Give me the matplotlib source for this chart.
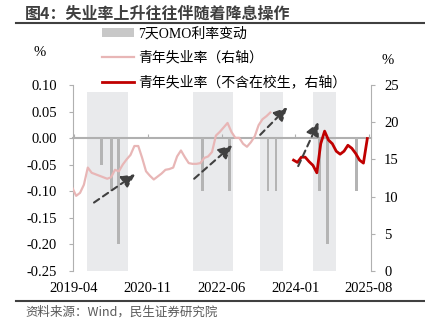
import calendar
import matplotlib
matplotlib.use('agg')
import matplotlib.pyplot as plt
from matplotlib.patches import Patch
from matplotlib.lines import Line2D

plt.rcParams['axes.unicode_minus'] = False

# ---- data ----
youth_start = '2019-03'
youth_rate = [11.2, 10.1, 10.5, 11.6, 13.9, 13.2, 13.0, 12.8, 12.6, 12.4,
              12.6, 13.6, 13.4, 14.3, 15.0, 15.6, 16.8, 16.8, 15.2, 13.4,
              12.8, 12.3, 12.7, 13.1, 13.6, 13.7, 13.9, 15.4, 16.2, 15.3,
              14.5, 14.4, 14.4, 14.5, 15.2, 15.4, 16.0, 18.2, 18.7, 19.3,
              19.9, 18.7, 17.9, 17.9, 17.1, 16.7, 17.3, 18.1, 19.6, 20.4,
              20.8, 21.3]
youth_ex_start = '2023-12'
youth_ex_rate = [14.9, 14.6, 15.3, 15.3, 14.7, 14.2, 13.2, 17.1, 18.8, 17.6,
                 17.1, 16.1, 15.7, 16.1, 16.9, 16.5, 15.8, 14.9, 14.5, 17.8]
omo_dates = ['2019-11-18', '2020-02-03', '2020-03-30', '2022-01-17', '2022-08-15',
             '2023-06-13', '2023-08-15', '2024-07-22', '2024-09-24', '2025-05-07']
omo_change = [-0.05, -0.10, -0.20, -0.10, -0.10, -0.10, -0.10, -0.10, -0.20, -0.10]
shade_periods = [('2019-07-28', '2020-06-09'), ('2021-11-07', '2022-09-16'),
                 ('2023-04-12', '2023-10-13'), ('2024-06-05', '2024-11-30')]
tick_labels = ['2019-04', '2020-11', '2022-06', '2024-01', '2025-08']
# trend arrows (month position, right-axis %)
arrows = [((5.6, 9.2), (16.2, 13.0)), ((31.4, 12.4), (41.2, 16.9)),
          ((48.4, 18.3), (55.4, 22.0)), ((58.2, 14.1), (63.4, 20.0))]

CJK = ['Noto Sans CJK SC', 'DejaVu Sans']
SERIF = ['Liberation Serif', 'Noto Sans CJK SC']


def mpos(s):
    # months since 2019-04-01 as a float
    parts = [int(p) for p in s.split('-')]
    y, mo = parts[0], parts[1]
    d = parts[2] if len(parts) > 2 else 1
    dim = calendar.monthrange(y, mo)[1]
    return (y - 2019) * 12 + (mo - 4) + (d - 1) / dim


def month_end_positions(start, n):
    # monthly values are dated at month end
    p0 = mpos(start) + 1
    return [p0 + i for i in range(n)]


fig = plt.figure(figsize=(4.25, 3.3), dpi=100)

# background axes in pixel coordinates for title, rules and source
bg = fig.add_axes([0, 0, 1, 1], zorder=-5)
bg.set_xlim(0, 425)
bg.set_ylim(330, 0)
bg.axis('off')
bg.text(25, 14, '图4：失业率上升往往伴随着降息操作', ha='left', va='center',
        family=CJK, fontsize=11.5, weight='bold', color='#3f3f3f')
bg.plot([16, 425], [22.5, 22.5], color='#404040', lw=1.5)
bg.plot([16, 425], [300.7, 300.7], color='#404040', lw=1.5)
bg.text(25, 312, '资料来源：Wind，民生证券研究院', ha='left', va='center',
        family=CJK, fontsize=9, color='#595959')
bg.text(40, 53, '%', ha='center', va='center', family=SERIF, fontsize=10.5)
bg.text(388, 60, '%', ha='center', va='center', family=SERIF, fontsize=10.5)

ax = fig.add_axes([73 / 425, 1 - 271 / 330, 298 / 425, 186 / 330])
ax.patch.set_alpha(0)
ax2 = ax.twinx()

# shading
for a, b in shade_periods:
    ax.axvspan(mpos(a), mpos(b), ymin=0, ymax=0.965, color='#e9eaec', lw=0, zorder=0)

# OMO bars
ax.bar([mpos(d) for d in omo_dates], omo_change, width=0.65, color='#b4b4b4', zorder=2)

ax.set_ylim(-0.25, 0.10)
ax.set_yticks([0.10, 0.05, 0.0, -0.05, -0.10, -0.15, -0.20, -0.25])
ax.yaxis.set_major_formatter(plt.FuncFormatter(lambda v, p: '%.2f' % v))
ax.set_xlim(0.19, 76.95)

# x axis line at zero, labels at bottom
ax.spines['bottom'].set_position(('data', 0))
ax.spines['bottom'].set_color('#b0b0b0')
ax.spines['bottom'].set_linewidth(1.5)
ax.spines['bottom'].set_zorder(1)
tick_pos = [mpos(t) + 0.45 for t in tick_labels]
ax.set_xticks(tick_pos)
ax.tick_params(axis='x', direction='in', length=3, color='#b0b0b0', labelbottom=False)
sec = ax.secondary_xaxis('bottom')
sec.spines['bottom'].set_visible(False)
sec.set_xticks(tick_pos)
sec.set_xticklabels(tick_labels, family=SERIF, fontsize=10.5)
sec.tick_params(length=0, pad=8)

for s in ['top', 'right']:
    ax.spines[s].set_visible(False)
for s in ['top', 'bottom', 'left']:
    ax2.spines[s].set_visible(False)
ax.spines['left'].set_color('#b0b0b0')
ax2.spines['right'].set_color('#b0b0b0')
ax.tick_params(axis='y', length=3, color='#b0b0b0', pad=8.5, labelsize=10.5)
for lab in ax.get_yticklabels():
    lab.set_family(SERIF)

# unemployment lines
ax2.plot(month_end_positions(youth_start, len(youth_rate)), youth_rate,
         color='#e8b6b6', lw=1.6, zorder=3)
ax2.plot(month_end_positions(youth_ex_start, len(youth_ex_rate)), youth_ex_rate,
         color='#c00000', lw=2.0, zorder=4)
ax2.set_ylim(0, 25)
ax2.set_yticks([0, 5, 10, 15, 20, 25])
ax2.tick_params(axis='y', length=3, color='#b0b0b0', pad=6.5, labelsize=10.5)
for lab in ax2.get_yticklabels():
    lab.set_family(SERIF)

for (x0, y0), (x1, y1) in arrows:
    ax2.annotate('', xy=(x1, y1), xytext=(x0, y0),
                 arrowprops=dict(arrowstyle='-|>,head_length=0.8,head_width=0.4',
                                 linestyle=(0, (3, 2.2)), lw=1.5, color='#404040',
                                 shrinkA=0, shrinkB=0), zorder=5)

# legend
handles = [Patch(facecolor='#c8c8c8', edgecolor='none'),
           Line2D([], [], color='#e8b6b6', lw=1.6),
           Line2D([], [], color='#c00000', lw=2.0)]
labels = ['7天OMO利率变动', '青年失业率（右轴）', '青年失业率（不含在校生，右轴）']
fig.legend(handles, labels, loc='upper left', bbox_to_anchor=(102 / 425, 1 - 27 / 330),
           frameon=False, borderpad=0, borderaxespad=0, handlelength=2.3,
           handletextpad=0.3, labelspacing=0.78, prop={'family': SERIF, 'size': 10})

fig.savefig('out.png', dpi=100)
plt.close(fig)
